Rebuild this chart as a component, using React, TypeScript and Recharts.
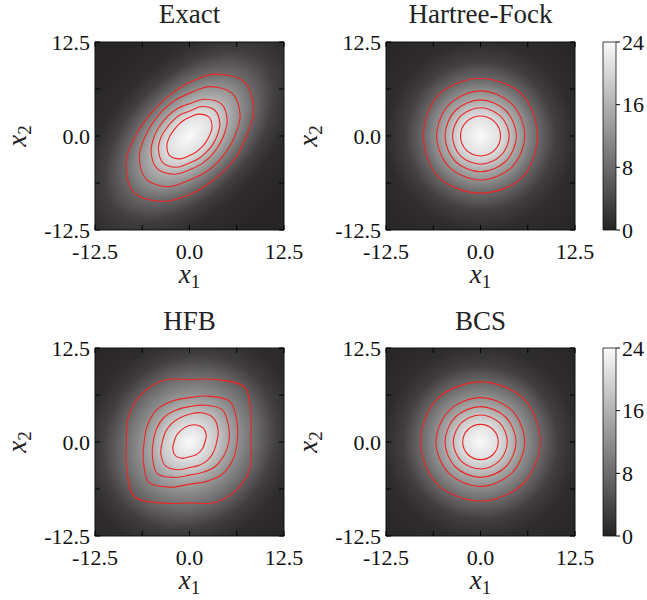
import { ComposedChart, Line, XAxis, YAxis, ReferenceArea, BarChart, Bar } from "recharts";

const FONT = '"Liberation Serif", "Times New Roman", serif';

// axes (same for all four panels)
const DOMAIN: [number, number] = [-12.5, 12.5];
const AXIS_TICKS = [-12.5, -6.25, 0, 6.25, 12.5];
const AXIS_LABELS = [-12.5, 0, 12.5];

// contour radii, outer -> inner.
// n radii per contour, evenly spaced angles starting at 0 deg, counter-clockwise
const EXACT_CONTOURS = [
  [7.5, 9.2, 10.2, 8.9, 7.1, 6.1, 5.8, 6.1, 7.15, 9.1, 10.5, 9.4, 7.8, 6.8, 6.5, 6.8],
  [6.0, 7.25, 8.0, 7.1, 5.7, 5.1, 4.9, 5.1, 5.85, 7.2, 8.1, 7.3, 5.85, 5.3, 5.1, 5.3],
  [4.5, 5.4, 6.0, 5.3, 4.3, 4.0, 3.9, 4.1, 4.65, 5.5, 6.1, 5.5, 4.5, 4.05, 3.9, 4.0],
  [3.65, 4.35, 4.8, 4.25, 3.3, 3.1, 3.0, 3.15, 3.7, 4.45, 5.0, 4.5, 3.6, 3.25, 3.1, 3.25],
  [2.62, 3.23, 3.6, 3.15, 2.5, 2.2, 2.1, 2.2, 2.6, 3.24, 3.7, 3.29, 2.6, 2.3, 2.2, 2.3],
];
const HF_CONTOURS = [
  [7.5, 7.8, 7.65, 7.8, 7.55, 7.8, 7.6, 7.8],
  [5.85, 5.95, 6.0, 5.9, 5.8, 5.85, 5.85, 5.85],
  [4.75, 4.75, 4.8, 4.75, 4.7, 4.75, 4.75, 4.75],
  [3.8, 3.75, 3.75, 3.75, 3.7, 3.75, 3.75, 3.75],
  [2.65, 2.65, 2.65, 2.65, 2.65, 2.65, 2.65, 2.65],
];
const HFB_CONTOURS = [
  [8.1, 8.8, 10.3, 9.0, 8.3, 8.9, 9.0, 8.75, 8.35, 9.0, 10.3, 8.8, 8.1, 8.7, 8.9, 8.7],
  [6.3, 6.8, 7.6, 6.6, 5.9, 5.9, 6.1, 6.0, 6.0, 6.6, 7.6, 6.5, 5.6, 5.7, 6.1, 6.2],
  [5.2, 5.6, 6.1, 5.3, 4.7, 4.6, 4.7, 4.7, 4.8, 5.3, 6.0, 5.1, 4.4, 4.4, 4.7, 4.9],
  [3.6, 4.1, 4.5, 4.2, 3.7, 3.45, 3.4, 3.45, 3.6, 4.1, 4.5, 4.0, 3.4, 3.35, 3.4, 3.45],
  [2.05, 2.4, 2.6, 2.45, 2.2, 2.0, 1.9, 1.95, 2.05, 2.4, 2.6, 2.35, 1.95, 1.9, 1.9, 1.95],
];
const BCS_CONTOURS = [
  [7.9, 8.1, 8.0, 8.1, 7.95, 8.0, 7.85, 7.9],
  [5.85, 5.9, 5.9, 5.9, 5.9, 5.9, 5.9, 5.85],
  [4.7, 4.7, 4.7, 4.7, 4.7, 4.7, 4.7, 4.7],
  [3.55, 3.6, 3.6, 3.6, 3.6, 3.6, 3.6, 3.55],
  [2.35, 2.35, 2.35, 2.35, 2.35, 2.35, 2.35, 2.35],
];

// background density: value at each radius, centre -> corner
const DENSITY = [24, 21, 18, 15, 12, 7.5, 3, 1, 0.2];
const EXACT_PROFILE = [0, 2.65, 3.75, 4.75, 5.9, 7.65, 10, 12.5, 17.7];
const HF_PROFILE = [0, 2.65, 3.75, 4.75, 5.9, 7.65, 10, 12.5, 17.7];
const HFB_PROFILE = [0, 2.2, 3.8, 5.0, 6.4, 9.0, 11.5, 14, 19];
const BCS_PROFILE = [0, 2.35, 3.6, 4.7, 5.9, 8.0, 10.3, 12.8, 18];

// colour bar
const CBAR_TICKS = [0, 8, 16, 24];
const CBAR = [{ name: "density", value: 24 }];

const CHART_W = 310;
const CHART_H = 300;
const PLOT_W = 189;
const PLOT_H = 188;
const TICK_LEN = 5;
const RED = "#ee2424";

function gray(v: number) {
  const lo = [37, 35, 35];
  const hi = [250, 250, 250];
  const t = Math.max(0, Math.min(1, v / 24));
  return `rgb(${lo.map((l, i) => Math.round(l + (hi[i] - l) * t)).join(",")})`;
}

function toPoints(radii: number[]) {
  return radii.map((r, i) => {
    const a = (2 * Math.PI * i) / radii.length;
    return { x: r * Math.cos(a), y: r * Math.sin(a) };
  });
}

// closed Catmull-Rom curve through the points
function closedCurve(context: any) {
  let pts: number[][] = [];
  return {
    areaStart() {},
    areaEnd() {},
    lineStart() {
      pts = [];
    },
    point(x: number, y: number) {
      pts.push([+x, +y]);
    },
    lineEnd() {
      const n = pts.length;
      if (!n) return;
      context.moveTo(pts[0][0], pts[0][1]);
      for (let i = 0; i < n; i++) {
        const p0 = pts[(i - 1 + n) % n];
        const p1 = pts[i];
        const p2 = pts[(i + 1) % n];
        const p3 = pts[(i + 2) % n];
        context.bezierCurveTo(
          p1[0] + (p2[0] - p0[0]) / 6,
          p1[1] + (p2[1] - p0[1]) / 6,
          p2[0] - (p3[0] - p1[0]) / 6,
          p2[1] - (p3[1] - p1[1]) / 6,
          p2[0],
          p2[1]
        );
      }
      context.closePath();
    },
  };
}

const fmt = (v: number) => v.toFixed(1);

function BottomTick(props: any) {
  const { x, y, payload } = props;
  const v = payload.value;
  return (
    <g>
      <line x1={x} y1={y} x2={x} y2={y - TICK_LEN} stroke="#000" />
      <line x1={x} y1={y - PLOT_H} x2={x} y2={y - PLOT_H + TICK_LEN} stroke="#000" />
      {AXIS_LABELS.includes(v) && (
        <text x={x} y={y + 29} textAnchor="middle" fontSize={22} fontFamily={FONT} fill="#111">
          {fmt(v)}
        </text>
      )}
    </g>
  );
}

function LeftTick(props: any) {
  const { x, y, payload } = props;
  const v = payload.value;
  return (
    <g>
      <line x1={x} y1={y} x2={x + TICK_LEN} y2={y} stroke="#000" />
      <line x1={x + PLOT_W} y1={y} x2={x + PLOT_W - TICK_LEN} y2={y} stroke="#000" />
      {AXIS_LABELS.includes(v) && (
        <text x={x - 5} y={y} dy="0.35em" textAnchor="end" fontSize={22} fontFamily={FONT} fill="#111">
          {fmt(v)}
        </text>
      )}
    </g>
  );
}

interface PanelProps {
  id: string;
  contours: number[][];
  profile: number[];
  tilt: number;
  stretch: [number, number];
  yAxisWidth: number;
}

function DensityPanel({ id, contours, profile, tilt, stretch, yAxisWidth }: PanelProps) {
  const rMax = profile[profile.length - 1];
  const span = DOMAIN[1] - DOMAIN[0];
  const transform = `translate(0.5 0.5) rotate(${-tilt}) scale(${stretch[0]} ${stretch[1]}) translate(-0.5 -0.5)`;
  return (
    <ComposedChart
      width={CHART_W}
      height={CHART_H}
      margin={{ top: 42, right: CHART_W - yAxisWidth - PLOT_W, bottom: 0, left: 0 }}
    >
      <defs>
        <radialGradient id={`bg-${id}`} cx="0.5" cy="0.5" r={rMax / span} gradientTransform={transform}>
          {profile.map((r, i) => (
            <stop key={i} offset={r / rMax} stopColor={gray(DENSITY[i])} />
          ))}
        </radialGradient>
      </defs>
      <ReferenceArea
        x1={DOMAIN[0]}
        x2={DOMAIN[1]}
        y1={DOMAIN[0]}
        y2={DOMAIN[1]}
        fill={`url(#bg-${id})`}
        fillOpacity={1}
        stroke="#111"
        strokeWidth={1}
      />
      {contours.map((radii, k) => (
        <Line
          key={k}
          data={toPoints(radii)}
          dataKey="y"
          type={closedCurve as any}
          stroke={RED}
          strokeWidth={1.1}
          dot={false}
          activeDot={false}
          isAnimationActive={false}
        />
      ))}
      <XAxis
        dataKey="x"
        type="number"
        domain={DOMAIN}
        ticks={AXIS_TICKS}
        interval={0}
        allowDataOverflow
        height={CHART_H - 42 - PLOT_H}
        tickSize={0}
        tickMargin={0}
        tickLine={false}
        axisLine={false}
        tick={BottomTick}
      />
      <YAxis
        type="number"
        domain={DOMAIN}
        ticks={AXIS_TICKS}
        interval={0}
        allowDataOverflow
        width={yAxisWidth}
        tickSize={0}
        tickMargin={0}
        tickLine={false}
        axisLine={false}
        tick={LeftTick}
      />
    </ComposedChart>
  );
}

function ColorBar({ id }: { id: string }) {
  return (
    <BarChart width={52} height={300} data={CBAR} margin={{ top: 42, right: 0, bottom: 70, left: 8 }} barCategoryGap={0}>
      <defs>
        <linearGradient id={`cb-${id}`} x1="0" y1="1" x2="0" y2="0">
          {CBAR_TICKS.map((v) => (
            <stop key={v} offset={v / 24} stopColor={gray(v)} />
          ))}
        </linearGradient>
      </defs>
      <XAxis dataKey="name" hide />
      <YAxis
        orientation="right"
        type="number"
        domain={[0, 24]}
        ticks={CBAR_TICKS}
        interval={0}
        width={31}
        tickSize={4}
        tickMargin={2}
        axisLine={false}
        tickLine={{ stroke: "#000" }}
        tick={{ fill: "#111", fontSize: 22, fontFamily: FONT }}
      />
      <Bar dataKey="value" fill={`url(#cb-${id})`} stroke="#111" strokeWidth={0.8} isAnimationActive={false} />
    </BarChart>
  );
}

const TITLES = [
  { text: "Exact", x: 189.5, y: 23 },
  { text: "Hartree-Fock", x: 480.5, y: 23 },
  { text: "HFB", x: 189.5, y: 330 },
  { text: "BCS", x: 480.5, y: 330 },
];

function AxisTitles() {
  const xLabels = [
    { x: 189.5, y: 283 },
    { x: 480.5, y: 283 },
    { x: 189.5, y: 589 },
    { x: 480.5, y: 589 },
  ];
  const yLabels = [
    { x: 18, y: 136 },
    { x: 309, y: 136 },
    { x: 18, y: 442 },
    { x: 309, y: 442 },
  ];
  return (
    <svg width={647} height={600} style={{ position: "absolute", left: 0, top: 0, pointerEvents: "none" }}>
      {TITLES.map((t) => (
        <text key={t.text} x={t.x} y={t.y} textAnchor="middle" fontSize={27} fontFamily={FONT} fill="#222">
          {t.text}
        </text>
      ))}
      {xLabels.map((p, i) => (
        <text key={`x${i}`} x={p.x} y={p.y} textAnchor="middle" fontSize={27} fontFamily={FONT} fill="#222">
          <tspan fontStyle="italic">x</tspan>
          <tspan fontSize={19} dy={5}>1</tspan>
        </text>
      ))}
      {yLabels.map((p, i) => (
        <text
          key={`y${i}`}
          x={p.x}
          y={p.y}
          textAnchor="middle"
          dy="0.3em"
          fontSize={27}
          fontFamily={FONT}
          fill="#222"
          transform={`rotate(-90 ${p.x} ${p.y})`}
        >
          <tspan fontStyle="italic">x</tspan>
          <tspan fontSize={19} dy={5}>2</tspan>
        </text>
      ))}
    </svg>
  );
}

export default function App() {
  const box = (left: number, top: number) => ({ position: "absolute" as const, left, top });
  return (
    <div style={{ position: "absolute", left: 0, top: 0, width: 647, height: 600, background: "#fff" }}>
      <div style={box(0, 0)}>
        <DensityPanel id="exact" contours={EXACT_CONTOURS} profile={EXACT_PROFILE} tilt={45} stretch={[1.38, 0.8]} yAxisWidth={95} />
      </div>
      <div style={box(290, 0)}>
        <DensityPanel id="hf" contours={HF_CONTOURS} profile={HF_PROFILE} tilt={0} stretch={[1, 1]} yAxisWidth={96} />
      </div>
      <div style={box(595, 0)}>
        <ColorBar id="top" />
      </div>
      <div style={box(0, 306)}>
        <DensityPanel id="hfb" contours={HFB_CONTOURS} profile={HFB_PROFILE} tilt={45} stretch={[1.06, 0.95]} yAxisWidth={95} />
      </div>
      <div style={box(290, 306)}>
        <DensityPanel id="bcs" contours={BCS_CONTOURS} profile={BCS_PROFILE} tilt={0} stretch={[1, 1]} yAxisWidth={96} />
      </div>
      <div style={box(595, 306)}>
        <ColorBar id="bottom" />
      </div>
      <AxisTitles />
    </div>
  );
}
